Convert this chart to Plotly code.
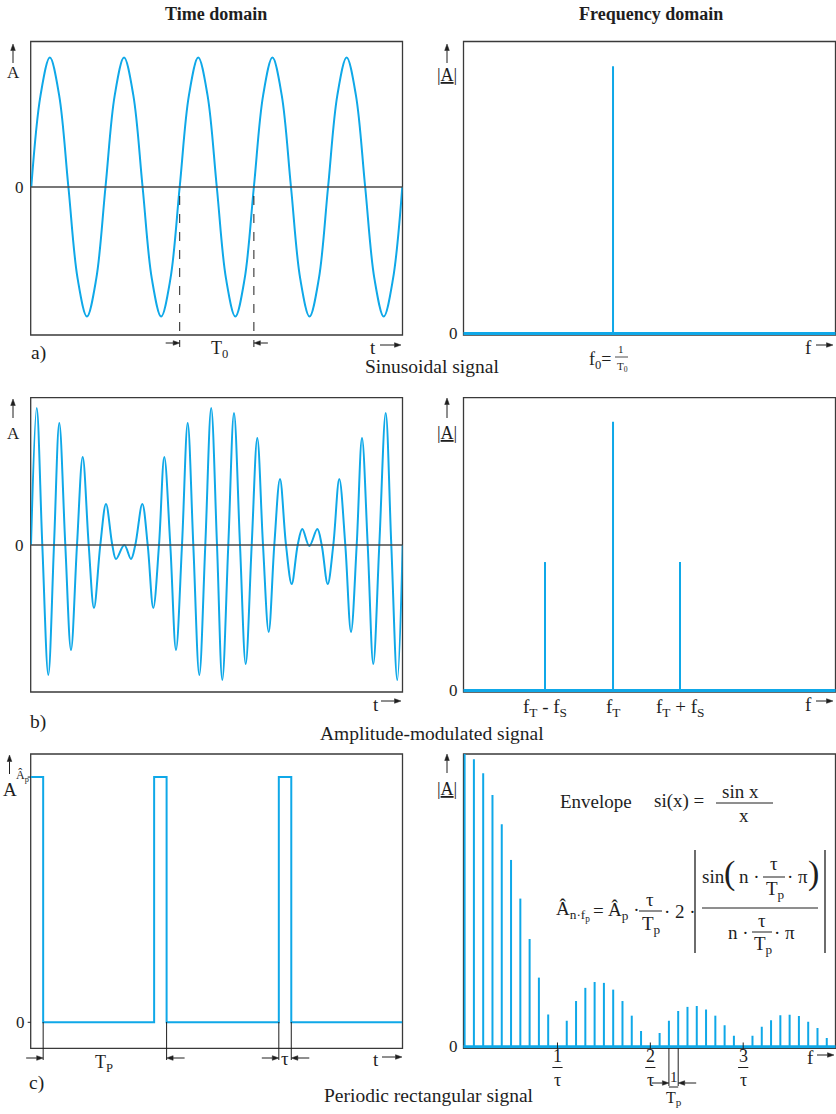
import plotly.graph_objects as go

W, H = 836, 1114
BLUE = "#0FA8E8"
INK = "#1E1E1E"
BOXC = "#3A3A3A"
FONT = "Liberation Serif"

# ---------------- data ----------------
# a) sinusoidal signal: time in periods T0, amplitude relative to A
sine_t = [0.0, 0.125, 0.25, 0.375, 0.5, 0.625, 0.75, 0.875,
          1.0, 1.125, 1.25, 1.375, 1.5, 1.625, 1.75, 1.875,
          2.0, 2.125, 2.25, 2.375, 2.5, 2.625, 2.75, 2.875,
          3.0, 3.125, 3.25, 3.375, 3.5, 3.625, 3.75, 3.875,
          4.0, 4.125, 4.25, 4.375, 4.5, 4.625, 4.75, 4.875, 5.0]
sine_a = [0, 0.71, 1, 0.71, 0, -0.71, -1, -0.71,
          0, 0.71, 1, 0.71, 0, -0.71, -1, -0.71,
          0, 0.71, 1, 0.71, 0, -0.71, -1, -0.71,
          0, 0.71, 1, 0.71, 0, -0.71, -1, -0.71,
          0, 0.71, 1, 0.71, 0, -0.71, -1, -0.71, 0]
period_marks = [2.0, 3.0]          # zero crossings marking one period T0

spec_a_f = [1.0]                   # f0
spec_a_amp = [1.0]

# b) amplitude-modulated signal (extrema and zero crossings)
am_t = [0.0, 5.7, 11.3, 17.3, 23.0, 28.3, 34.3, 40.0, 46.0, 51.7,
        57.7, 63.0, 69.3, 75.0, 81.3, 85.0, 93.3, 100.0, 104.3, 111.3,
        116.7, 122.3, 128.0, 133.3, 139.3, 145.0, 151.0, 156.7, 162.3, 168.3,
        174.3, 180.2, 186.0, 191.3, 197.3, 203.0, 209.0, 214.7, 220.7, 226.3,
        232.0, 237.7, 243.3, 249.0, 255.0, 260.7, 266.7, 271.3, 278.3, 286.3,
        290.7, 296.7, 302.3, 308.3, 314.3, 320.0, 325.7, 331.0, 336.7, 342.3,
        348.3, 354.7, 360.3, 366.3, 371.7]
am_a = [0, 137, 0, -130, 0, 122, 0, -105, 0, 88,
        0, -63, 0, 41, 0, -14, 0, -14, 0, 41,
        0, -63, 0, 88, 0, -105, 0, 122, 0, -130,
        0, 137, 0, -135, 0, 132, 0, -119, 0, 107,
        0, -87, 0, 66, 0, -39, 0, 16, -1, 16,
        0, -39, 0, 66, 0, -87, 0, 107, 0, -119,
        0, 132, 0, -135, 0]

spec_b_f = [0.545, 1.0, 1.448]
spec_b_amp = [0.478, 1.0, 0.478]
spec_b_labels = ["f<sub>T</sub> - f<sub>S</sub>", "f<sub>T</sub>", "f<sub>T</sub> + f<sub>S</sub>"]

# c) periodic rectangular signal (t in units where Tp = 10, tau = 1)
rect_t = [0, 1.0, 1.0, 9.9, 9.9, 10.9, 10.9, 19.9, 19.9, 20.9, 20.9, 29.8]
rect_a = [1, 1, 0, 0, 1, 1, 0, 0, 1, 1, 0, 0]
rect_marks = [1.0, 10.9, 19.9, 20.9]

harm_n = list(range(40))
harm_amp = [100, 98.2, 93.4, 86.0, 76.0, 63.8, 50.6, 36.8, 23.6, 11.0,
            0, 8.9, 15.6, 20.1, 22.1, 21.8, 19.5, 15.6, 10.6, 5.4,
            0, 4.7, 8.9, 12.2, 13.6, 13.9, 12.7, 10.6, 7.3, 3.7,
            0, 3.7, 6.8, 9.0, 10.7, 10.9, 10.5, 8.5, 6.4, 3.0]
zero_marks = [10, 20, 30]
zero_labels = ["1", "2", "3"]
tp_marks = [22, 23]

# ---------------- geometry ----------------
LX = [30.7 / W, 402.5 / W]
RX = [463.5 / W, 835.5 / W]
ROW_A = [1 - 335 / H, 1 - 41.5 / H]
ROW_B = [1 - 692 / H, 1 - 397.7 / H]
ROW_C = [1 - 1048.3 / H, 1 - 754 / H]
RNG = {
    "x": [-0.008, 5.003], "y": [-1.143, 1.124],
    "x2": [0, 2.488], "y2": [-0.006, 1.093],
    "x3": [-0.3, 371.5], "y3": [-147, 147.3],
    "x4": [0, 2.488], "y4": [-0.006, 1.09],
    "x5": [0, 29.82], "y5": [-0.106, 1.094],
    "x6": [-0.12, 39.94], "y6": [-0.55, 100],
}
XDOM = {"x": LX, "x2": RX, "x3": LX, "x4": RX, "x5": LX, "x6": RX}


def px(x):
    return x / W


def py(y):
    return 1 - y / H


def data_to_px(val, ax):
    dom, rng = XDOM[ax], RNG[ax]
    return (dom[0] + (val - rng[0]) / (rng[1] - rng[0]) * (dom[1] - dom[0])) * W


ann = []
shapes = []


def text(s, x, y, size=16, xref="paper", yref="paper", xa="center", ya="middle"):
    ann.append(dict(text=s, x=px(x) if xref == "paper" else x, y=py(y) if yref == "paper" else y,
                    xref=xref, yref=yref, xanchor=xa, yanchor=ya, showarrow=False, borderpad=0,
                    font=dict(family=FONT, size=size, color=INK)))


def seg(x0, y0, x1, y1, xref="paper", yref="paper", width=1, dash="solid", color=INK, layer="above"):
    shapes.append(dict(type="line",
                       x0=px(x0) if xref == "paper" else x0, x1=px(x1) if xref == "paper" else x1,
                       y0=py(y0) if yref == "paper" else y0, y1=py(y1) if yref == "paper" else y1,
                       xref=xref, yref=yref, layer=layer,
                       line=dict(color=color, width=width, dash=dash)))


def arr(xt, yt, dx, dy, hl=6.5, hw=2.3):
    """arrow with tip at (xt, yt) px, tail at tip + (dx, dy)"""
    L = (dx * dx + dy * dy) ** 0.5
    ux, uy = -dx / L, -dy / L
    bx, by = xt - ux * hl, yt - uy * hl
    nx, ny = -uy, ux
    seg(xt + dx, yt + dy, bx, by, width=1)
    path = (f"M {px(xt)},{py(yt)} L {px(bx + nx * hw)},{py(by + ny * hw)} "
            f"L {px(bx - nx * hw)},{py(by - ny * hw)} Z")
    shapes.append(dict(type="path", path=path, xref="paper", yref="paper", fillcolor=INK,
                       line=dict(color=INK, width=0.5), layer="above"))


def stems(xs, hs):
    X, Y = [], []
    for x, h in zip(xs, hs):
        X += [x, x, None]
        Y += [0, h, None]
    return X, Y


fig = go.Figure()
lw = 2
fig.add_trace(go.Scatter(x=sine_t, y=sine_a, mode="lines", xaxis="x", yaxis="y", hoverinfo="skip",
                         line=dict(color=BLUE, width=lw, shape="spline", smoothing=1)))
X, Y = stems(spec_a_f, spec_a_amp)
fig.add_trace(go.Scatter(x=X, y=Y, mode="lines", xaxis="x2", yaxis="y2", hoverinfo="skip",
                         line=dict(color=BLUE, width=lw)))
fig.add_trace(go.Scatter(x=am_t, y=am_a, mode="lines", xaxis="x3", yaxis="y3", hoverinfo="skip",
                         line=dict(color=BLUE, width=lw, shape="spline", smoothing=1)))
X, Y = stems(spec_b_f, spec_b_amp)
fig.add_trace(go.Scatter(x=X, y=Y, mode="lines", xaxis="x4", yaxis="y4", hoverinfo="skip",
                         line=dict(color=BLUE, width=lw)))
fig.add_trace(go.Scatter(x=rect_t, y=rect_a, mode="lines", xaxis="x5", yaxis="y5", hoverinfo="skip",
                         line=dict(color=BLUE, width=lw)))
X, Y = stems(harm_n, harm_amp)
fig.add_trace(go.Scatter(x=X, y=Y, mode="lines", xaxis="x6", yaxis="y6", hoverinfo="skip",
                         line=dict(color=BLUE, width=lw)))

# ---------------- axes ----------------
base = dict(visible=False, showgrid=False, zeroline=False, fixedrange=True)
layout_axes = {}
for i in ["", "2", "3", "4", "5", "6"]:
    xa, ya = "x" + i, "y" + i
    ydom = ROW_A if i in ["", "2"] else (ROW_B if i in ["3", "4"] else ROW_C)
    layout_axes["xaxis" + i] = dict(base, domain=XDOM[xa], range=RNG[xa], anchor=ya)
    layout_axes["yaxis" + i] = dict(base, domain=ydom, range=RNG[ya], anchor=xa)

# boxes
for i in ["", "2", "3", "4", "5", "6"]:
    shapes.append(dict(type="rect", xref=f"x{i} domain", yref=f"y{i} domain", x0=0, x1=1, y0=0, y1=1,
                       line=dict(color=BOXC, width=1.3), layer="below"))
# zero lines (time domain a, b)
for i in ["", "3"]:
    shapes.append(dict(type="line", xref=f"x{i} domain", yref=f"y{i}", x0=0, x1=1, y0=0, y1=0,
                       line=dict(color="#4A4A4A", width=1.3), layer="above"))
# blue baselines of the spectra
for i in ["2", "4", "6"]:
    shapes.append(dict(type="line", xref=f"x{i} domain", yref=f"y{i}", x0=0, x1=1, y0=0, y1=0,
                       line=dict(color=BLUE, width=3), layer="above"))

LAB = 17      # axis letters
CAP = 19.5    # captions

# ---------------- titles ----------------
text("<b>Time domain</b>", 216, 14, 18)
text("<b>Frequency domain</b>", 651, 14, 18)

# ---------------- row a ----------------
arr(13, 44, 0, 19)
text("A", 13, 73, LAB)
text("0", 19, 0, LAB, yref="y")
text("a)", 38, 353, CAP)
for m in period_marks:
    seg(m, 196, m, 347, xref="x", dash="dash", width=1)
arr(data_to_px(period_marks[0], "x"), 343, -14, 0)
arr(data_to_px(period_marks[1], "x"), 343, 14, 0)
text("T<sub>0</sub>", 219, 350, 18)
text("t", 373, 347, 19)
arr(401, 345, -21, 0)
text("Sinusoidal signal", 432, 367, CAP)

arr(447, 44, 0, 19)
text("|<u>A</u>|", 447, 75, 18)
text("0", 453, 0, LAB, yref="y2")
text("f<sub>0</sub>=", 600, 360, 18)
text("1", 621, 356, 11, ya="bottom")
seg(615, 357, 628, 357, width=0.8)
text("T<sub>0</sub>", 622, 358.5, 11, ya="top")
text("f", 808, 347, 19)
arr(833, 345, -17, 0)

# ---------------- row b ----------------
arr(13, 399, 0, 19)
text("A", 13, 433, LAB)
text("0", 19, 0, LAB, yref="y3")
text("t", 376, 704, 19)
arr(401, 701, -20, 0)
text("b)", 38, 722, CAP)
text("Amplitude-modulated signal", 432, 733, CAP)

arr(447, 398, 0, 20)
text("|<u>A</u>|", 447, 433, 18)
text("0", 453, 0, LAB, yref="y4")
for f, lab in zip(spec_b_f, spec_b_labels):
    text(lab, f, 708, 19, xref="x4")
text("f", 808, 704, 19)
arr(833, 701, -17, 0)

# ---------------- row c ----------------
arr(9.5, 755, 0, 19)
text("A", 10, 789, 19)
text("Â<sub>p</sub>", 22, 776, 12)
text("0", 20, 0, LAB, yref="y5")
for v in [0, 1]:
    seg(27.7, v, 30.7, v, yref="y5", width=1)
for m in rect_marks:
    seg(m, 1022, m, 1060, xref="x5", width=1)
arr(data_to_px(rect_marks[0], "x5"), 1058, -17, 0)
arr(data_to_px(rect_marks[1], "x5"), 1058, 18, 0)
arr(data_to_px(rect_marks[2], "x5"), 1058, -17, 0)
arr(data_to_px(rect_marks[3], "x5"), 1058, 18, 0)
text("T<sub>P</sub>", 104, 1063, 18)
text("τ", (rect_marks[2] + rect_marks[3]) / 2, 1058, 19, xref="x5")
text("t", 376, 1059, 19)
arr(402, 1057, -20, 0)
text("c)", 36, 1083, CAP)
text("Periodic rectangular signal", 429, 1095, CAP)

arr(447, 754, 0, 19)
text("|<u>A</u>|", 447, 789, 18)
text("0", 453, 0, LAB, yref="y6")
for z, lab in zip(zero_marks, zero_labels):
    seg(z, 1042.5, z, 1049.5, xref="x6", width=1)
    text(lab, z, 1066.5, 18, xref="x6", ya="bottom")
    seg(z - 0.55, 1067.5, z + 0.55, 1067.5, xref="x6", width=1)
    text("τ", z, 1068.5, 18, xref="x6", ya="top")
for m in tp_marks:
    seg(m, 1048, m, 1086, xref="x6", width=1)
arr(data_to_px(tp_marks[0], "x6"), 1083, -17, 0)
arr(data_to_px(tp_marks[1], "x6"), 1083, 18, 0)
mid = (tp_marks[0] + tp_marks[1]) / 2
text("1", mid, 1086, 15, xref="x6", ya="bottom")
seg(mid - 0.5, 1087, mid + 0.5, 1087, xref="x6", width=1)
text("T<sub>p</sub>", mid, 1088, 16, xref="x6", ya="top")
text("f", 810, 1057, 19)
arr(834, 1055, -17, 0)

# formulas
FS = 19
text("Envelope", 559, 801, FS, xa="left")
text("si(x) =", 653, 801, FS, xa="left")
text("sin x", 740, 791, FS)
seg(716, 803, 773, 803, width=1)
text("x", 744, 815, FS)

text("Â<sub>n·f<sub>p</sub></sub>", 555, 911, FS, xa="left")
text("=", 598, 910, FS)
text("Â<sub>p</sub> ·", 607, 911, FS, xa="left")
text("τ", 650, 899, FS)
seg(639, 911, 662, 911, width=1)
text("T<sub>p</sub>", 651, 925, FS)
text("· 2 ·", 680, 911, FS)
seg(695, 850, 695, 953, width=1.3)
seg(825, 850, 825, 953, width=1.3)
seg(702, 908, 818, 908, width=1)
text("sin", 713, 876, FS)
text("(", 729, 873, 34)
text("n ·", 749, 876, FS)
text("τ", 774, 864, FS)
seg(763, 877, 785, 877, width=1)
text("T<sub>p</sub>", 775, 890, FS)
text("· π", 797, 876, FS)
text(")", 813, 873, 34)
text("n ·", 738, 932, FS)
text("τ", 762, 920, FS)
seg(752, 932, 772, 932, width=1)
text("T<sub>p</sub>", 763, 945, FS)
text("· π", 784, 932, FS)

fig.update_layout(
    width=W, height=H, margin=dict(l=0, r=0, t=0, b=0),
    paper_bgcolor="white", plot_bgcolor="white", showlegend=False,
    font=dict(family=FONT, size=16, color=INK),
    annotations=ann, shapes=shapes, **layout_axes,
)

fig.write_html("out.html", config={"displayModeBar": False, "staticPlot": True},
               post_script="document.body.style.margin='0px';")
